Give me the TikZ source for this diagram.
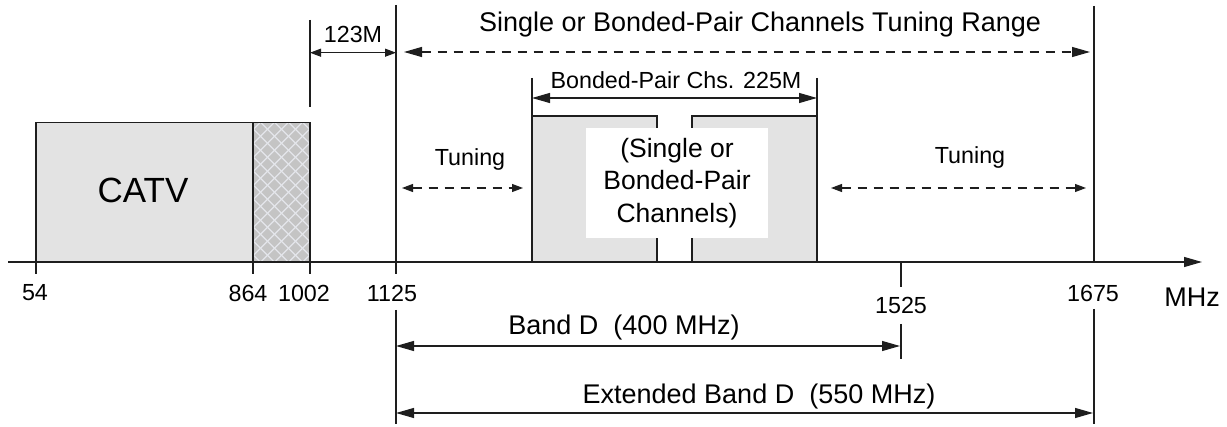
\documentclass[tikz,border=0pt]{standalone}
\usepackage{fontspec}
\setmainfont{Liberation Sans}
\usetikzlibrary{arrows.meta}

\definecolor{chanfill}{RGB}{227,227,227}
\definecolor{hatchbase}{RGB}{196,196,196}
\definecolor{hatchline}{RGB}{228,230,235}
\definecolor{ink}{RGB}{30,30,30}

\tikzset{
  bigtip/.tip={Triangle[length=18pt,width=10pt]},
  smalltip/.tip={Triangle[length=11pt,width=8pt]},
  thin line/.style={draw=ink, line width=1.1pt},
  dim big/.style={thin line, {bigtip}-{bigtip}},
  dim small/.style={thin line, {smalltip}-{smalltip}},
  dashline/.style={dash pattern=on 9pt off 7pt},
  lbl/.style={inner sep=0pt, font=\fontsize{23.3}{28}\selectfont},
  biglbl/.style={inner sep=0pt, font=\fontsize{27}{32}\selectfont},
}

\begin{document}
\begin{tikzpicture}[x=1pt, y=-1pt]
\useasboundingbox (0,0) rectangle (1227,427);

% frequency axis
\coordinate (axL) at (8,262);
\coordinate (axR) at (1202,262);

% CATV block and the 864-1002 hatched block
\fill[chanfill] (36,122.7) rectangle (253,262);
\fill[hatchbase] (253,122.7) rectangle (310,262);
\begin{scope}
  \clip (253,122.7) rectangle (310,262);
  \foreach \d in {-160,-146,...,80} {
    \draw[hatchline, line width=1.3pt] (253+\d,122.7) -- ++(160,160);
    \draw[hatchline, line width=1.3pt] (310-\d,122.7) -- ++(-160,160);
  }
\end{scope}
\draw[thin line] (36,262) -- (36,122.7) -- (253,122.7) -- (253,262);
\draw[thin line] (253,122.7) -- (310,122.7) -- (310,262);
\node[inner sep=0pt, font=\fontsize{35}{40}\selectfont] (catv) at (143,190) {CATV};

% channel blocks
\fill[chanfill] (532,116) rectangle (657,262);
\fill[chanfill] (692,116) rectangle (817,262);
\draw[thin line] (532,262) -- (532,116) -- (657,116) -- (657,262);
\draw[thin line] (692,262) -- (692,116) -- (817,116) -- (817,262);
\node[fill=white, minimum width=182pt, minimum height=110pt, inner sep=0pt,
      align=center, font=\fontsize{26.5}{32.5}\selectfont] (chans) at (677,183)
  {(Single or\\Bonded-Pair\\Channels)};

% axis
\draw[thin line, -{bigtip}] (axL) -- (axR);

% ticks and reference lines
\coordinate (k54a) at (36,262);   \coordinate (k54b) at (36,274);
\coordinate (k864a) at (253,262); \coordinate (k864b) at (253,274);
\coordinate (k1002a) at (310,262);\coordinate (k1002b) at (310,274);
\coordinate (k1002u) at (310,20); \coordinate (k1002v) at (310,107);
\coordinate (k1125a) at (396,5);  \coordinate (k1125b) at (396,274);
\coordinate (k1125c) at (396,310);\coordinate (k1125d) at (396,424);
\coordinate (k1525a) at (901,262);\coordinate (k1525b) at (901,287);
\coordinate (k1525c) at (901,324);\coordinate (k1525d) at (901,359);
\coordinate (k1675a) at (1094,6); \coordinate (k1675b) at (1094,262);
\coordinate (k1675c) at (1094,309);\coordinate (k1675d) at (1094,424);
\coordinate (bpL) at (532,78);    \coordinate (bpLb) at (532,116);
\coordinate (bpR) at (817,78);    \coordinate (bpRb) at (817,116);

\draw[thin line] (k54a) -- (k54b);
\draw[thin line] (k864a) -- (k864b);
\draw[thin line] (k1002a) -- (k1002b);
\draw[thin line] (k1002u) -- (k1002v);
\draw[thin line] (k1125a) -- (k1125b);
\draw[thin line] (k1125c) -- (k1125d);
\draw[thin line] (k1525a) -- (k1525b);
\draw[thin line] (k1525c) -- (k1525d);
\draw[thin line] (k1675a) -- (k1675b);
\draw[thin line] (k1675c) -- (k1675d);
\draw[thin line] (bpL) -- (bpLb);
\draw[thin line] (bpR) -- (bpRb);

% tick labels
\node[lbl] (l54)   at (35,293)  {54};
\node[lbl] (l864)  at (248,293) {864};
\node[lbl] (l1002) at (304,293) {1002};
\node[lbl] (l1125) at (392,293) {1125};
\node[lbl] (l1525) at (901,305) {1525};
\node[lbl] (l1675) at (1093,293) {1675};
\node[biglbl] (lmhz) at (1192,297) {MHz};

% dimension arrows
\coordinate (g123L) at (310,52.7); \coordinate (g123R) at (396,52.7);
\draw[dim small] (g123L) -- (g123R);
\node[lbl] (l123) at (353,34) {123M};

\coordinate (rngL) at (404,52); \coordinate (rngR) at (1090,52);
\draw[dim big, dashline] (rngL) -- (rngR);
\node[biglbl] (lrng) at (760,25) {Single or Bonded-Pair Channels Tuning Range};

\coordinate (bpaL) at (532,98); \coordinate (bpaR) at (817,98);
\draw[dim big] (bpaL) -- (bpaR);
\node[lbl] (lbp) at (676,80) {Bonded-Pair Chs. 225M};

\coordinate (tuLa) at (402,188); \coordinate (tuLb) at (523,188);
\draw[dim small, dashline] (tuLa) -- (tuLb);
\node[lbl] (ltuL) at (470,159) {Tuning};

\coordinate (tuRa) at (831,188); \coordinate (tuRb) at (1086,188);
\draw[dim small, dashline] (tuRa) -- (tuRb);
\node[lbl] (ltuR) at (970,157) {Tuning};

\coordinate (bdL) at (396,346); \coordinate (bdR) at (900,346);
\draw[dim big] (bdL) -- (bdR);
\node[biglbl] (lbd) at (624,328) {Band D~~(400 MHz)};

\coordinate (ebL) at (396,413); \coordinate (ebR) at (1093,413);
\draw[dim big] (ebL) -- (ebR);
\node[biglbl] (leb) at (759,397) {Extended Band D~~(550 MHz)};
\end{tikzpicture}
\end{document}
